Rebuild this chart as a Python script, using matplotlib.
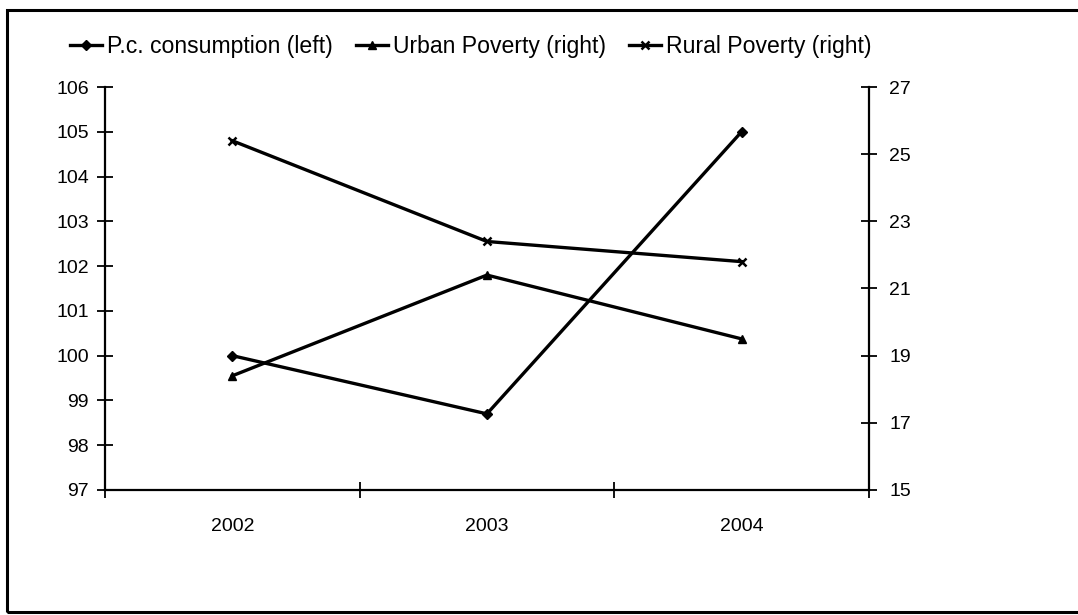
import matplotlib
matplotlib.use("Agg")
import matplotlib.pyplot as plt
from matplotlib.patches import Rectangle

plt.rcParams['font.family'] = ['Liberation Sans', 'DejaVu Sans']

years = ['2002', '2003', '2004']
consumption = [100.0, 98.7, 105.0]   # left axis, index
urban_poverty = [18.4, 21.4, 19.5]   # right axis, %
rural_poverty = [25.4, 22.4, 21.8]   # right axis, %

left_ticks = list(range(97, 107))
right_ticks = list(range(15, 28, 2))

fig = plt.figure(figsize=(10.78, 6.15), dpi=100)
ax = fig.add_axes([0.0974, 0.2033, 0.7086, 0.6552])
ax2 = ax.twinx()

x = list(range(len(years)))
lw = 2.4
l1, = ax.plot(x, consumption, color='black', lw=lw, marker='D', ms=5)
l2, = ax2.plot(x, urban_poverty, color='black', lw=lw, marker='^', ms=6)
l3, = ax2.plot(x, rural_poverty, color='black', lw=lw, marker='x', ms=6, mew=1.8)

ax.set_xlim(-0.5, 2.5)
ax.set_ylim(97, 106)
ax2.set_ylim(15, 27)

fs = 14
ax.set_yticks(left_ticks)
ax.set_yticklabels([str(t) for t in left_ticks], fontsize=fs)
ax2.set_yticks(right_ticks)
ax2.set_yticklabels([str(t) for t in right_ticks], fontsize=fs)

# tick marks on category boundaries, labels in the middle
ax.set_xticks([-0.5, 0.5, 1.5, 2.5])
ax.set_xticklabels([])
ax.set_xticks(x, minor=True)
ax.set_xticklabels(years, minor=True, fontsize=fs)
ax.tick_params(axis='x', which='major', direction='inout', length=11, width=1.3)
ax.tick_params(axis='x', which='minor', length=0, pad=20)
ax.tick_params(axis='y', direction='inout', length=11, width=1.3, pad=6)
ax2.tick_params(axis='y', direction='inout', length=11, width=1.3, pad=9)

for a in (ax, ax2):
    a.spines['top'].set_visible(False)
    for s in ('left', 'right', 'bottom'):
        a.spines[s].set_linewidth(1.6)
ax2.spines['left'].set_visible(False)
ax2.spines['bottom'].set_visible(False)
ax.spines['right'].set_visible(False)

fig.legend([l1, l2, l3],
           ['P.c. consumption (left)', 'Urban Poverty (right)', 'Rural Poverty (right)'],
           loc='center left', bbox_to_anchor=(0.065, 0.925), ncol=3, frameon=False,
           fontsize=16.6, handlelength=1.4, handletextpad=0.2, columnspacing=1.0,
           borderaxespad=0, borderpad=0)

# outer chart border
fig.add_artist(Rectangle((0.0065, 0.0049), 1.2, 0.9788, transform=fig.transFigure,
                         fill=False, lw=2.2, edgecolor='black', clip_on=False))

fig.savefig('out.png', dpi=100)
